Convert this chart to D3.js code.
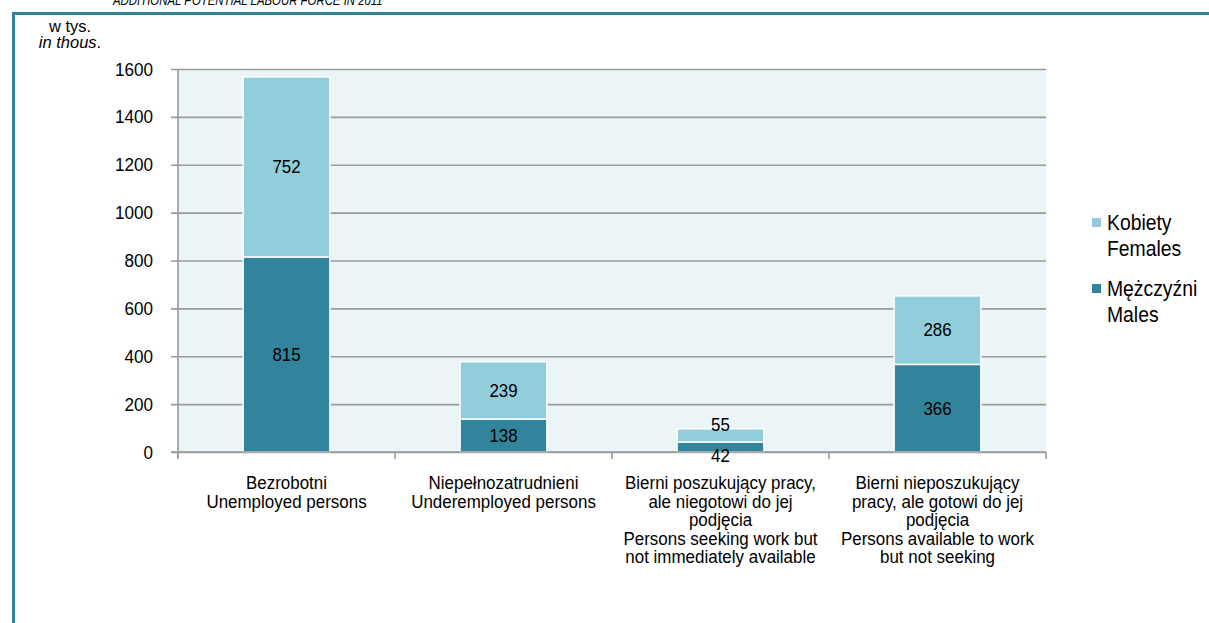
<!DOCTYPE html>
<html>
<head>
<meta charset="utf-8">
<script src="https://cdn.jsdelivr.net/npm/d3@7"></script>
<style>
  html, body { margin: 0; padding: 0; background: #fff; }
  svg { display: block; font-family: "Liberation Sans", Arial, sans-serif; }
</style>
</head>
<body>
<svg id="chart" width="1209" height="623"></svg>
<script>
const categoriesPL = [
  ["Bezrobotni"],
  ["Niepełnozatrudnieni"],
  ["Bierni poszukujący pracy,", "ale niegotowi do jej", "podjęcia"],
  ["Bierni nieposzukujący", "pracy, ale gotowi do jej", "podjęcia"]
];
const categoriesEN = [
  ["Unemployed persons"],
  ["Underemployed persons"],
  ["Persons seeking work but", "not immediately available"],
  ["Persons available to work", "but not seeking"]
];
const males = [815, 138, 42, 366];
const females = [752, 239, 55, 286];
const yTicks = [0, 200, 400, 600, 800, 1000, 1200, 1400, 1600];
const seriesNames = [["Kobiety", "Females"], ["Mężczyźni", "Males"]];
const titleText = "ADDITIONAL POTENTIAL LABOUR FORCE IN 2011";

const colFemale = "#92CDDC";
const colMale = "#31849B";
const SX = 0.9; // horizontal squeeze of the narrow-looking reference font

const svg = d3.select("#chart");
const W = 1209, H = 623;
const plot = {left: 178, right: 1046, top: 69, bottom: 452};

// helper: narrow text placed at (x, y)
function ntext(x, y, size, anchor, sx) {
  const g = svg.append("g").attr("transform", `translate(${x},${y}) scale(${sx || SX},1)`);
  return g.append("text").attr("x", 0).attr("y", 0).attr("font-size", size)
    .attr("text-anchor", anchor || "start").attr("fill", "#000");
}

// title (cut off at the top, as in the reference)
ntext(113, 5, 15, "start", 0.76).attr("font-style", "italic").text(titleText);

// frame
svg.append("line").attr("x1", 12).attr("x2", W).attr("y1", 13.5).attr("y2", 13.5)
  .attr("stroke", colMale).attr("stroke-width", 3);
svg.append("line").attr("x1", 13.5).attr("x2", 13.5).attr("y1", 12).attr("y2", H)
  .attr("stroke", colMale).attr("stroke-width", 3);

// unit label
ntext(70, 32, 16.5, "middle", 1).text("w tys.");
const u2 = ntext(70, 48, 16.5, "middle", 1);
u2.append("tspan").attr("font-style", "italic").text("in thous");
u2.append("tspan").text(".");

const x = d3.scaleBand().domain(d3.range(categoriesPL.length))
  .range([plot.left, plot.right]).paddingInner(0).paddingOuter(0);
const y = d3.scaleLinear().domain([0, 1600]).range([plot.bottom, plot.top]);

// plot background
svg.append("rect").attr("x", plot.left).attr("y", plot.top)
  .attr("width", plot.right - plot.left).attr("height", plot.bottom - plot.top)
  .attr("fill", "#EBF5F8");

// gridlines + y axis
const yAxis = d3.axisLeft(y).tickValues(yTicks).tickFormat(d3.format("d"))
  .tickSize(-(plot.right - plot.left)).tickPadding(14);
const gy = svg.append("g").attr("transform", `translate(${plot.left},0)`).call(yAxis);
gy.select(".domain").remove();
gy.selectAll(".tick line").attr("stroke", "#9a9a9a").attr("stroke-width", 1.6)
  .attr("x1", -7);
gy.selectAll(".tick text").attr("font-size", 19).attr("fill", "#000")
  .attr("font-family", "'Liberation Sans', Arial, sans-serif")
  .attr("x", -25 / SX).attr("transform", `scale(${SX},1)`);
svg.append("line").attr("x1", plot.left).attr("x2", plot.left)
  .attr("y1", plot.top).attr("y2", plot.bottom + 6)
  .attr("stroke", "#9a9a9a").attr("stroke-width", 1.6);

// bars
const bw = x.bandwidth() * 0.4;
const stacks = d3.stack().keys(["m", "f"])(males.map((m, i) => ({m: m, f: females[i]})));
const colors = {m: colMale, f: colFemale};
stacks.forEach(s => {
  svg.append("g").selectAll("rect").data(s).join("rect")
    .attr("x", (d, i) => x(i) + (x.bandwidth() - bw) / 2)
    .attr("width", bw)
    .attr("y", d => y(d[1]))
    .attr("height", d => y(d[0]) - y(d[1]))
    .attr("fill", colors[s.key])
    .attr("stroke", "#fff").attr("stroke-width", 1.5);
});

// x axis line (zero line) and category ticks
svg.append("line").attr("x1", plot.left - 7).attr("x2", plot.right)
  .attr("y1", y(0)).attr("y2", y(0)).attr("stroke", "#9a9a9a").attr("stroke-width", 1.6);
const bounds = d3.range(categoriesPL.length + 1).map(i => plot.left + i * x.step());
svg.append("g").selectAll("line").data(bounds).join("line")
  .attr("x1", d => d).attr("x2", d => d)
  .attr("y1", y(0)).attr("y2", y(0) + 7)
  .attr("stroke", "#9a9a9a").attr("stroke-width", 1.6);

// data labels
stacks.forEach(s => {
  s.forEach((d, i) => {
    const top = y(d[1]), bot = y(d[0]);
    let c = (top + bot) / 2;
    if (bot - top < 20) c = s.key === "f" ? top - 4 : bot + 4;
    ntext(x(i) + x.bandwidth() / 2, c, 18, "middle", 0.94).attr("dy", "0.35em").text(d.data[s.key]);
  });
});

// category labels
categoriesPL.forEach((pl, i) => {
  const lines = pl.concat(categoriesEN[i]);
  const t = ntext(x(i) + x.bandwidth() / 2, 483, 17.5, "middle", 0.97);
  lines.forEach((l, j) => {
    t.append("tspan").attr("x", 0).attr("dy", j === 0 ? "0.35em" : 18.5).text(l);
  });
});

// legend
const legendY = [222, 288];
seriesNames.forEach((names, k) => {
  const c = k === 0 ? colFemale : colMale;
  svg.append("rect").attr("x", 1092).attr("y", legendY[k] - 4).attr("width", 9).attr("height", 9).attr("fill", c);
  const t = ntext(1107, legendY[k], 21.5, "start");
  names.forEach((n, j) => {
    t.append("tspan").attr("x", 0).attr("dy", j === 0 ? "0.35em" : 26).text(n);
  });
});
</script>
</body>
</html>
